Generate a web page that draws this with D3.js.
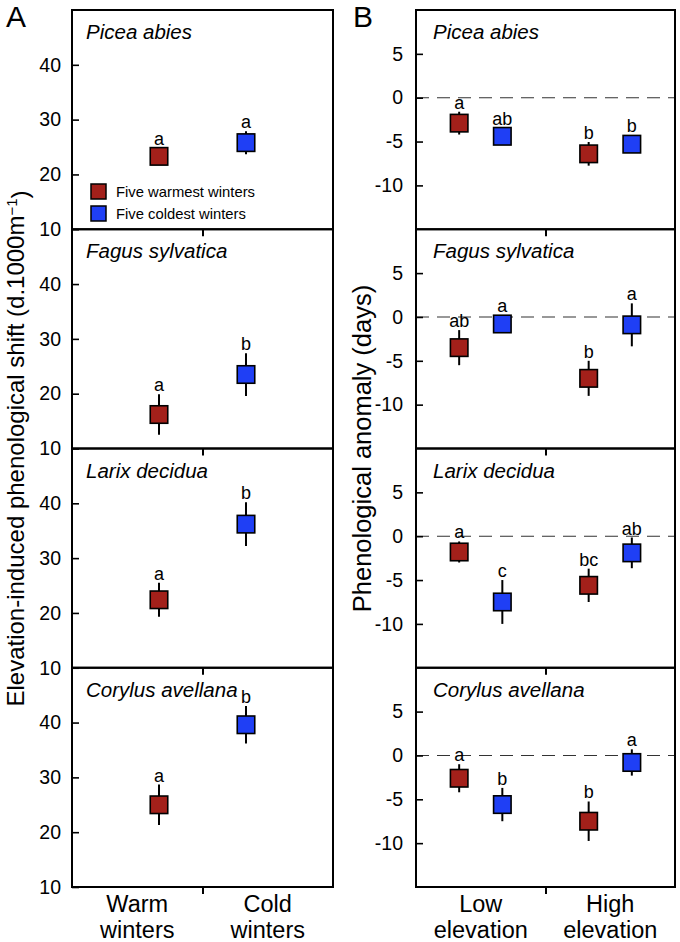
<!DOCTYPE html>
<html>
<head>
<meta charset="utf-8">
<script src="https://cdn.jsdelivr.net/npm/d3@7"></script>
<style>
  html, body { margin: 0; padding: 0; background: #fff; }
  svg { display: block; }
  text { font-family: "Liberation Sans", Arial, Helvetica, sans-serif; fill: #000; }
</style>
</head>
<body>
<svg id="chart" width="680" height="942"></svg>
<script>
// ---------------- data ----------------
const species = ["Picea abies", "Fagus sylvatica", "Larix decidua", "Corylus avellana"];

// Panel A: elevation-induced phenological shift (d.1000m-1)
const warmMeanA = [23.3, 16.2, 22.4, 25.0];
const warmErrA  = [1.2, 3.7, 3.1, 3.7];
const warmLetA  = ["a", "a", "a", "a"];
const coldMeanA = [25.8, 23.5, 36.2, 39.6];
const coldErrA  = [2.1, 3.9, 4.0, 3.4];
const coldLetA  = ["a", "b", "b", "b"];

// Panel B: phenological anomaly (days); order: low-warm, low-cold, high-warm, high-cold
const meanB = [
  [-2.9, -4.4, -6.4, -5.3],
  [-3.5, -0.8, -7.0, -0.9],
  [-1.8, -7.5, -5.6, -1.9],
  [-2.6, -5.6, -7.5, -0.8]
];
const errB = [
  [1.3, 0.7, 1.35, 0.8],
  [2.0, 0.6, 2.0, 2.45],
  [1.2, 2.5, 1.9, 1.75],
  [1.6, 1.9, 2.25, 1.5]
];
const letB = [
  ["a", "ab", "b", "b"],
  ["ab", "a", "b", "a"],
  ["a", "c", "bc", "ab"],
  ["a", "b", "b", "a"]
];
const groupSeriesB = ["warm", "cold", "warm", "cold"];
const groupPosB = [1, 2, 4, 5];

const ticksA = [10, 20, 30, 40];
const ticksB = [5, 0, -5, -10];
const catLabelsA = [["Warm", "winters"], ["Cold", "winters"]];
const catLabelsB = [["Low", "elevation"], ["High", "elevation"]];
const legendLabels = ["Five warmest winters", "Five coldest winters"];
const yTitleA = "Elevation-induced phenological shift (d.1000m";
const yTitleB = "Phenological anomaly (days)";

// ---------------- styles ----------------
const colors = { warm: "#a3201a", cold: "#1f3ff5" };
const svg = d3.select("#chart");

const topY = 10, panelH = 219.25;
const A = { left: 72, right: 333 };
const B = { left: 416, right: 675 };

const xA = d3.scaleLinear().domain([0, 3]).range([A.left, A.right]);
const xB = d3.scaleLinear().domain([0, 6]).range([B.left, B.right]);

const MS = 17.5; // marker size

function drawPanel(i, cfg) {
  const y0 = topY + i * panelH, y1 = y0 + panelH;
  const y = d3.scaleLinear().domain(cfg.domain).range([y1, y0]);
  const g = svg.append("g");

  // zero line
  if (cfg.zero) {
    g.append("line")
      .attr("x1", cfg.x.range()[0]).attr("x2", cfg.x.range()[1])
      .attr("y1", y(0)).attr("y2", y(0))
      .attr("stroke", "#333").attr("stroke-width", 1.1)
      .attr("stroke-dasharray", "13,8");
  }

  // error bars
  g.selectAll("line.err").data(cfg.points).enter().append("line")
    .attr("class", "err")
    .attr("x1", d => cfg.x(d.x)).attr("x2", d => cfg.x(d.x))
    .attr("y1", d => y(d.m + d.e)).attr("y2", d => y(d.m - d.e))
    .attr("stroke", "#000").attr("stroke-width", 2);

  // markers
  g.selectAll("rect.mk").data(cfg.points).enter().append("rect")
    .attr("class", "mk")
    .attr("x", d => cfg.x(d.x) - MS / 2).attr("y", d => y(d.m) - MS / 2)
    .attr("width", MS).attr("height", MS)
    .attr("fill", d => colors[d.s]).attr("stroke", "#000").attr("stroke-width", 1.6);

  // letters
  g.selectAll("text.let").data(cfg.points).enter().append("text")
    .attr("class", "let")
    .attr("x", d => cfg.x(d.x))
    .attr("y", d => Math.min(y(d.m + d.e), y(d.m) - MS / 2) - 3)
    .attr("text-anchor", "middle")
    .style("font-size", "18px")
    .text(d => d.l);

  // species title
  g.append("text")
    .attr("x", cfg.x.range()[0] + cfg.titleDx)
    .attr("y", y0 + 29)
    .style("font-size", "20.5px").style("font-style", "italic")
    .text(species[i]);

  // y axis (inward ticks)
  const ya = g.append("g").attr("transform", `translate(${cfg.x.range()[0]},0)`)
    .call(d3.axisLeft(y).tickValues(cfg.ticks).tickSizeInner(-7).tickSizeOuter(0)
      .tickPadding(cfg.pad).tickFormat(d => String(d)));
  ya.select(".domain").remove();
  ya.selectAll(".tick line").attr("stroke", "#000").attr("stroke-width", 1.6);
  ya.selectAll(".tick text").style("font-size", "19.5px")
    .style("font-family", '"Liberation Sans", Arial, sans-serif');

  // x axis tick (outward)
  const xa = g.append("g").attr("transform", `translate(0,${y1})`)
    .call(d3.axisBottom(cfg.x).tickValues([cfg.mid]).tickSize(7).tickFormat(""));
  xa.select(".domain").remove();
  xa.selectAll(".tick line").attr("stroke", "#000").attr("stroke-width", 2);

  // frame
  g.append("rect")
    .attr("x", cfg.x.range()[0]).attr("y", y0)
    .attr("width", cfg.x.range()[1] - cfg.x.range()[0]).attr("height", panelH)
    .attr("fill", "none").attr("stroke", "#000").attr("stroke-width", 2);

  return y;
}

for (let i = 0; i < species.length; i++) {
  const ptsA = [
    { x: 1, m: warmMeanA[i], e: warmErrA[i], l: warmLetA[i], s: "warm" },
    { x: 2, m: coldMeanA[i], e: coldErrA[i], l: coldLetA[i], s: "cold" }
  ];
  drawPanel(i, { x: xA, domain: [10, 50], ticks: ticksA, pad: 11, points: ptsA, mid: 1.5, titleDx: 14, zero: false });

  const ptsB = groupPosB.map((gx, j) => ({ x: gx, m: meanB[i][j], e: errB[i][j], l: letB[i][j], s: groupSeriesB[j] }));
  drawPanel(i, { x: xB, domain: [-15, 10], ticks: ticksB, pad: 13, points: ptsB, mid: 3, titleDx: 17, zero: true });
}

// legend (panel A, top)
const legY = [191.5, 213.5];
["warm", "cold"].forEach((s, k) => {
  svg.append("rect").attr("x", 91).attr("y", legY[k] - 7.5).attr("width", 15).attr("height", 15)
    .attr("fill", colors[s]).attr("stroke", "#000").attr("stroke-width", 1.5);
  svg.append("text").attr("x", 116).attr("y", legY[k] + 5)
    .style("font-size", "14.8px").text(legendLabels[k]);
});

// category labels
const bottom = topY + 4 * panelH;
function catLabels(x, labels, positions) {
  labels.forEach((lines, k) => {
    const t = svg.append("text").attr("text-anchor", "middle").style("font-size", "23.5px");
    lines.forEach((ln, j) => {
      t.append("tspan").attr("x", x(positions[k])).attr("y", bottom + 25 + j * 26).text(ln);
    });
  });
}
catLabels(xA, catLabelsA, [0.75, 2.25]);
catLabels(xB, catLabelsB, [1.5, 4.5]);

// y titles
const midY = topY + 2 * panelH;
const tA = svg.append("text")
  .attr("transform", `translate(24,${midY}) rotate(-90)`)
  .attr("text-anchor", "middle").style("font-size", "24px");
tA.append("tspan").text(yTitleA);
tA.append("tspan").attr("dy", "-0.45em").style("font-size", "15px").text("\u22121");
tA.append("tspan").attr("dy", "0.45em").text(")");

svg.append("text")
  .attr("transform", `translate(371,${midY}) rotate(-90)`)
  .attr("text-anchor", "middle").style("font-size", "25.5px")
  .text(yTitleB);

// panel letters
svg.append("text").attr("x", 6).attr("y", 27).style("font-size", "30px").text("A");
svg.append("text").attr("x", 353).attr("y", 27).style("font-size", "30px").text("B");
</script>
</body>
</html>
